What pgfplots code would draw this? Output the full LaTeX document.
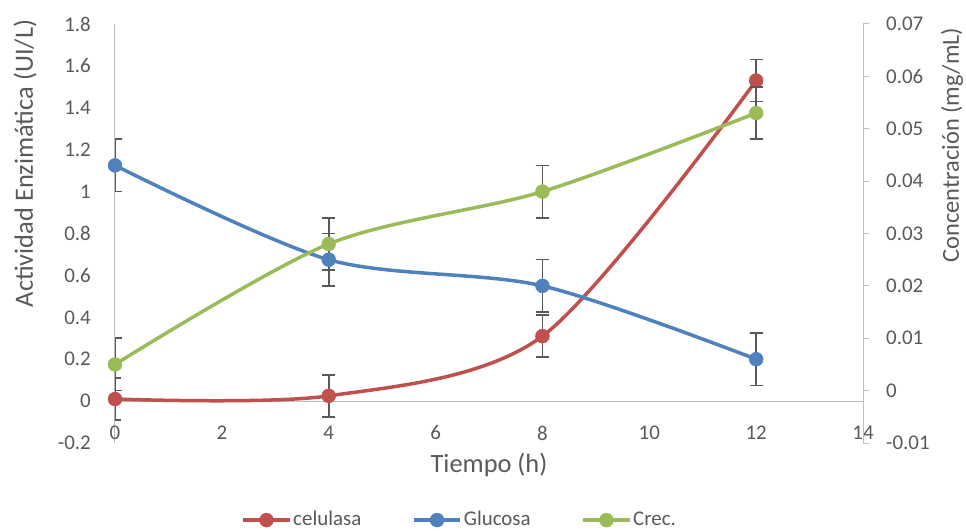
\documentclass[border=0pt]{standalone}
\usepackage{pgfplots}
\pgfplotsset{compat=1.18}
\usepackage{fontspec}
\setmainfont{Carlito}
\definecolor{cred}{HTML}{C0504D}
\definecolor{cblue}{HTML}{4F81BD}
\definecolor{cgreen}{HTML}{9BBB59}
\definecolor{ctext}{HTML}{595959}
\definecolor{caxis}{HTML}{BFBFBF}
\definecolor{cerr}{HTML}{595959}
\pgfplotsset{
  common/.style={
    at={(0,0)}, anchor=south west, scale only axis,
    width=748bp, height=419bp,
    xmin=0, xmax=14,
    /pgf/number format/assume math mode=true,
    tick label style={text=ctext, font=\fontsize{21}{25}\selectfont},
    label style={text=ctext, font=\fontsize{26.5}{31}\selectfont},
  },
  ser/.style={#1, line width=3.5bp, smooth, tension=0.5, mark=*, mark size=7bp,
    mark options={solid, fill=#1, draw=#1, line width=0.4bp}},
  errs/.style={error bars/.cd, y dir=both, y explicit,
    error bar style={cerr, line width=1.6bp},
    error mark options={cerr, rotate=90, mark size=6.5bp, line width=1.6bp}},
}
\begin{document}
\fontsize{21}{25}\selectfont
\begin{tikzpicture}[font=\fontsize{21}{25}\selectfont]
\path[use as bounding box] (-115bp,-88bp) rectangle (851bp,443bp);
\begin{axis}[common,
  ymin=-0.2, ymax=1.8,
  xtick={0,2,4,6,8,10,12,14},
  ytick={-0.2,0,0.2,0.4,0.6,0.8,1,1.2,1.4,1.6,1.8},
  axis x line*=bottom, axis y line*=left,
  x axis line style={draw=none},
  y axis line style={caxis, line width=1bp},
  xtick style={draw=none}, ytick style={draw=none},
  xticklabel style={anchor=center, yshift=10bp},
  yticklabel style={anchor=east, xshift=-17bp, /pgf/number format/fixed, /pgf/number format/precision=1},
  extra y ticks={0}, extra y tick labels={},
  extra y tick style={grid=major, tick style={draw=none}},
  major grid style={caxis, line width=1bp},
  xlabel={Tiempo (h)},
  xlabel style={at={(axis description cs:0.5,0)}, anchor=center, yshift=-22bp},
  ylabel={Actividad Enzimática (UI/L)},
  ylabel style={at={(axis description cs:-0.1203,0.667)}, anchor=center},
]
\addplot[ser=cred, errs] coordinates {
  (0,0.01) +- (0,0.1)
  (4,0.025) +- (0,0.1)
  (8,0.31) +- (0,0.1)
  (12,1.53) +- (0,0.1)
};
\end{axis}
\begin{axis}[common,
  ymin=-0.01, ymax=0.07,
  ytick={-0.01,0,0.01,0.02,0.03,0.04,0.05,0.06,0.07},
  scaled y ticks=false,
  axis x line=none, axis y line*=right,
  y axis line style={caxis, line width=1bp},
  ytick style={caxis, line width=1bp},
  tick align=outside, major tick length=6bp,
  yticklabel style={anchor=west, xshift=10bp, /pgf/number format/fixed, /pgf/number format/precision=2},
  ylabel={Concentración (mg/mL)},
  ylabel style={at={(axis description cs:1.119,0.711)}, anchor=center, font=\fontsize{24.5}{29}\selectfont},
  legend columns=3,
  legend style={at={(axis description cs:0.461,-0.184)}, anchor=center, draw=none, fill=none,
    text=ctext, font=\fontsize{21}{25}\selectfont,
    /tikz/every even column/.append style={column sep=49bp},
    nodes={inner sep=2bp}},
  legend image code/.code={\draw[mark repeat=2, mark phase=2, #1] plot coordinates {(0bp,0bp) (23bp,0bp) (46bp,0bp)};},
]
\addlegendimage{ser=cred}
\addlegendentry{celulasa}
\addplot[ser=cblue, errs] coordinates {
  (0,0.043) +- (0,0.005)
  (4,0.025) +- (0,0.005)
  (8,0.020) +- (0,0.005)
  (12,0.006) +- (0,0.005)
};
\addlegendentry{Glucosa}
\addplot[ser=cgreen, errs] coordinates {
  (0,0.005) +- (0,0.005)
  (4,0.028) +- (0,0.005)
  (8,0.038) +- (0,0.005)
  (12,0.053) +- (0,0.005)
};
\addlegendentry{Crec.}
\end{axis}
\end{tikzpicture}
\end{document}
